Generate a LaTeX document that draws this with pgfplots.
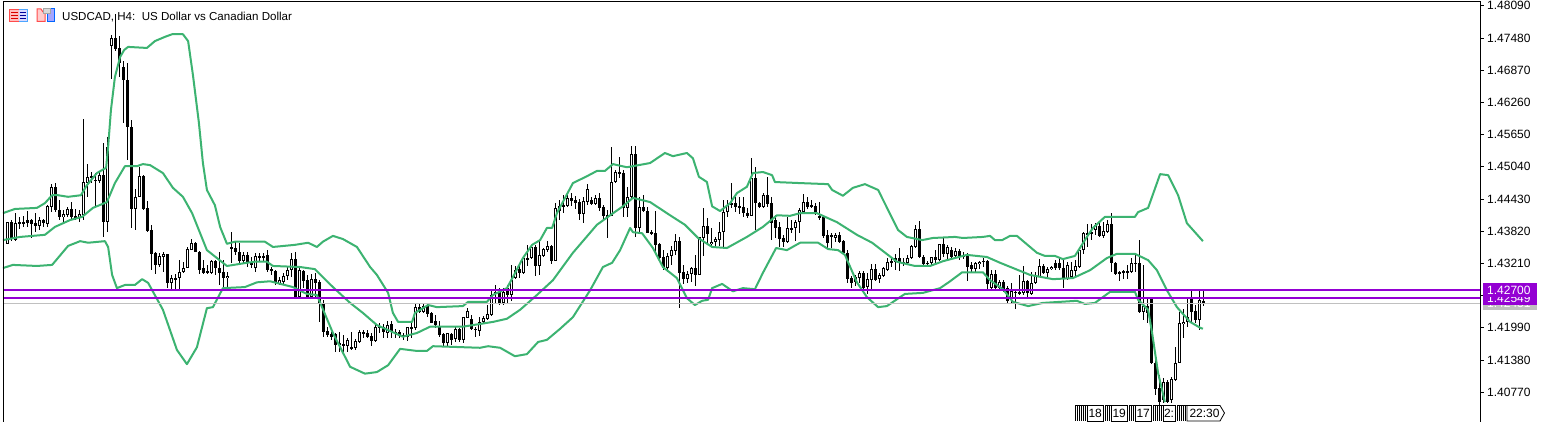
\documentclass[border=0pt]{standalone}
\usepackage{fontspec}
\setmainfont{Liberation Sans}
\usepackage{pgfplots}
\usepackage{pgfplotstable}
\pgfplotsset{compat=1.18}
\definecolor{band}{RGB}{60,179,113}
\definecolor{level}{RGB}{148,0,211}
\definecolor{bidline}{RGB}{192,192,192}
\newcommand{\chartfont}{\fontsize{12}{14}\selectfont}

% i open high low close, 4-hour bars
\pgfplotstableread{
i o h l c
0 1.4358 1.4399 1.4358 1.4399
1 1.4399 1.4403 1.4363 1.4367
2 1.4365 1.4416 1.4363 1.4397
3 1.4399 1.4409 1.4387 1.4395
4 1.4399 1.4411 1.4389 1.4395
5 1.4403 1.4420 1.4389 1.4397
6 1.4403 1.4405 1.4369 1.4395
7 1.4397 1.4416 1.4380 1.4392
8 1.4392 1.4409 1.4384 1.4403
9 1.4403 1.4405 1.4389 1.4397
10 1.4395 1.4431 1.4389 1.4429
11 1.4427 1.4471 1.4418 1.4465
12 1.4465 1.4473 1.4418 1.4422
13 1.4422 1.4441 1.4403 1.4409
14 1.4409 1.4422 1.4399 1.4414
15 1.4412 1.4427 1.4409 1.4424
16 1.4424 1.4437 1.4403 1.4409
17 1.4411 1.4424 1.4403 1.4407
18 1.4409 1.4422 1.4399 1.4414
19 1.4412 1.4594 1.4403 1.4475
20 1.4473 1.4509 1.4447 1.4485
21 1.4486 1.4494 1.4473 1.4483
22 1.4479 1.4492 1.4429 1.4477
23 1.4477 1.4496 1.4473 1.4488
24 1.4488 1.4549 1.4371 1.4399
25 1.4399 1.4560 1.4380 1.4541
26 1.4733 1.4754 1.4670 1.4748
27 1.4748 1.4793 1.4723 1.4727
28 1.4729 1.4752 1.4674 1.4700
29 1.4693 1.4704 1.4587 1.4668
30 1.4668 1.4700 1.4517 1.4579
31 1.4579 1.4592 1.4388 1.4424
32 1.4424 1.4462 1.4384 1.4447
33 1.4447 1.4503 1.4447 1.4486
34 1.4486 1.4488 1.4422 1.4424
35 1.4426 1.4439 1.4380 1.4382
36 1.4384 1.4394 1.4308 1.4339
37 1.4341 1.4342 1.4301 1.4318
38 1.4318 1.4341 1.4314 1.4335
39 1.4333 1.4342 1.4304 1.4339
40 1.4339 1.4339 1.4274 1.4284
41 1.4284 1.4299 1.4270 1.4293
42 1.4293 1.4301 1.4270 1.4291
43 1.4293 1.4327 1.4270 1.4304
44 1.4304 1.4324 1.4303 1.4312
45 1.4312 1.4352 1.4312 1.4348
46 1.4346 1.4367 1.4346 1.4360
47 1.4360 1.4362 1.4342 1.4342
48 1.4342 1.4344 1.4301 1.4308
49 1.4312 1.4327 1.4301 1.4303
50 1.4306 1.4318 1.4301 1.4303
51 1.4303 1.4327 1.4301 1.4325
52 1.4325 1.4327 1.4299 1.4312
53 1.4312 1.4342 1.4280 1.4303
54 1.4304 1.4327 1.4276 1.4293
55 1.4293 1.4304 1.4274 1.4297
56 1.4352 1.4380 1.4322 1.4350
57 1.4350 1.4362 1.4337 1.4342
58 1.4342 1.4360 1.4318 1.4325
59 1.4325 1.4342 1.4322 1.4337
60 1.4337 1.4342 1.4314 1.4322
61 1.4324 1.4333 1.4312 1.4318
62 1.4312 1.4341 1.4304 1.4335
63 1.4335 1.4341 1.4324 1.4331
64 1.4335 1.4341 1.4324 1.4331
65 1.4337 1.4346 1.4304 1.4308
66 1.4310 1.4314 1.4299 1.4306
67 1.4306 1.4308 1.4280 1.4284
68 1.4284 1.4295 1.4280 1.4289
69 1.4285 1.4303 1.4280 1.4297
70 1.4297 1.4314 1.4289 1.4308
71 1.4308 1.4341 1.4295 1.4329
72 1.4329 1.4342 1.4255 1.4257
73 1.4257 1.4312 1.4255 1.4308
74 1.4306 1.4308 1.4274 1.4287
75 1.4289 1.4299 1.4255 1.4257
76 1.4257 1.4301 1.4255 1.4291
77 1.4291 1.4303 1.4255 1.4284
78 1.4285 1.4289 1.4210 1.4246
79 1.4246 1.4252 1.4182 1.4191
80 1.4193 1.4201 1.4182 1.4185
81 1.4187 1.4191 1.4176 1.4182
82 1.4187 1.4189 1.4153 1.4166
83 1.4166 1.4191 1.4153 1.4170
84 1.4168 1.4185 1.4153 1.4164
85 1.4164 1.4180 1.4153 1.4176
86 1.4162 1.4191 1.4157 1.4161
87 1.4161 1.4178 1.4157 1.4174
88 1.4172 1.4195 1.4170 1.4191
89 1.4191 1.4195 1.4180 1.4189
90 1.4189 1.4195 1.4180 1.4182
91 1.4183 1.4189 1.4164 1.4174
92 1.4174 1.4206 1.4172 1.4201
93 1.4201 1.4208 1.4189 1.4199
94 1.4201 1.4206 1.4180 1.4191
95 1.4189 1.4212 1.4180 1.4204
96 1.4206 1.4212 1.4180 1.4191
97 1.4191 1.4197 1.4180 1.4189
98 1.4191 1.4195 1.4180 1.4183
99 1.4185 1.4189 1.4176 1.4182
100 1.4182 1.4201 1.4174 1.4201
101 1.4201 1.4210 1.4180 1.4197
102 1.4199 1.4246 1.4195 1.4238
103 1.4238 1.4246 1.4227 1.4229
104 1.4229 1.4244 1.4227 1.4240
105 1.4240 1.4244 1.4219 1.4225
106 1.4227 1.4229 1.4208 1.4208
107 1.4212 1.4223 1.4199 1.4204
108 1.4201 1.4212 1.4182 1.4185
109 1.4187 1.4189 1.4162 1.4170
110 1.4170 1.4189 1.4162 1.4189
111 1.4187 1.4189 1.4166 1.4176
112 1.4178 1.4201 1.4172 1.4197
113 1.4197 1.4199 1.4172 1.4176
114 1.4176 1.4219 1.4170 1.4219
115 1.4217 1.4236 1.4217 1.4231
116 1.4216 1.4223 1.4195 1.4197
117 1.4197 1.4201 1.4182 1.4195
118 1.4193 1.4219 1.4183 1.4210
119 1.4210 1.4221 1.4208 1.4217
120 1.4216 1.4242 1.4214 1.4225
121 1.4223 1.4268 1.4221 1.4261
122 1.4267 1.4280 1.4246 1.4265
123 1.4267 1.4274 1.4242 1.4246
124 1.4246 1.4274 1.4242 1.4267
125 1.4274 1.4280 1.4244 1.4261
126 1.4261 1.4318 1.4250 1.4289
127 1.4293 1.4316 1.4291 1.4308
128 1.4310 1.4316 1.4293 1.4303
129 1.4303 1.4333 1.4301 1.4331
130 1.4331 1.4356 1.4316 1.4329
131 1.4331 1.4356 1.4329 1.4352
132 1.4352 1.4356 1.4297 1.4316
133 1.4316 1.4363 1.4299 1.4337
134 1.4335 1.4350 1.4333 1.4348
135 1.4346 1.4363 1.4342 1.4354
136 1.4354 1.4356 1.4320 1.4325
137 1.4325 1.4435 1.4325 1.4426
138 1.4429 1.4441 1.4403 1.4420
139 1.4431 1.4450 1.4416 1.4427
140 1.4429 1.4450 1.4427 1.4445
141 1.4445 1.4454 1.4429 1.4439
142 1.4441 1.4449 1.4424 1.4435
143 1.4437 1.4443 1.4403 1.4414
144 1.4414 1.4447 1.4397 1.4439
145 1.4437 1.4471 1.4431 1.4462
146 1.4441 1.4447 1.4431 1.4433
147 1.4433 1.4450 1.4431 1.4445
148 1.4445 1.4454 1.4420 1.4426
149 1.4427 1.4431 1.4403 1.4411
150 1.4412 1.4422 1.4369 1.4409
151 1.4411 1.4541 1.4411 1.4475
152 1.4475 1.4498 1.4473 1.4494
153 1.4494 1.4522 1.4483 1.4490
154 1.4492 1.4498 1.4409 1.4426
155 1.4426 1.4466 1.4409 1.4447
156 1.4447 1.4543 1.4443 1.4528
157 1.4528 1.4543 1.4371 1.4388
158 1.4388 1.4447 1.4380 1.4427
159 1.4427 1.4450 1.4418 1.4420
160 1.4420 1.4427 1.4378 1.4378
161 1.4380 1.4384 1.4375 1.4378
162 1.4378 1.4420 1.4341 1.4356
163 1.4358 1.4360 1.4324 1.4331
164 1.4333 1.4346 1.4308 1.4312
165 1.4312 1.4341 1.4304 1.4335
166 1.4335 1.4354 1.4318 1.4346
167 1.4344 1.4376 1.4337 1.4363
168 1.4363 1.4371 1.4236 1.4303
169 1.4304 1.4318 1.4282 1.4291
170 1.4291 1.4306 1.4284 1.4301
171 1.4301 1.4314 1.4285 1.4312
172 1.4312 1.4337 1.4278 1.4299
173 1.4299 1.4371 1.4299 1.4371
174 1.4369 1.4426 1.4335 1.4392
175 1.4392 1.4407 1.4360 1.4376
176 1.4358 1.4388 1.4354 1.4362
177 1.4362 1.4371 1.4354 1.4367
178 1.4365 1.4399 1.4354 1.4380
179 1.4380 1.4441 1.4352 1.4418
180 1.4418 1.4441 1.4409 1.4431
181 1.4435 1.4473 1.4426 1.4431
182 1.4435 1.4447 1.4418 1.4427
183 1.4429 1.4447 1.4414 1.4426
184 1.4427 1.4447 1.4409 1.4416
185 1.4416 1.4426 1.4407 1.4411
186 1.4411 1.4520 1.4411 1.4483
187 1.4483 1.4503 1.4384 1.4435
188 1.4435 1.4437 1.4426 1.4427
189 1.4427 1.4454 1.4426 1.4450
190 1.4450 1.4485 1.4427 1.4433
191 1.4435 1.4447 1.4365 1.4397
192 1.4403 1.4412 1.4369 1.4388
193 1.4390 1.4399 1.4352 1.4367
194 1.4369 1.4375 1.4352 1.4362
195 1.4362 1.4409 1.4360 1.4388
196 1.4388 1.4403 1.4378 1.4386
197 1.4388 1.4403 1.4363 1.4399
198 1.4399 1.4426 1.4378 1.4422
199 1.4418 1.4452 1.4416 1.4437
200 1.4437 1.4447 1.4424 1.4427
201 1.4431 1.4441 1.4426 1.4427
202 1.4429 1.4435 1.4412 1.4416
203 1.4411 1.4437 1.4403 1.4407
204 1.4409 1.4411 1.4369 1.4373
205 1.4375 1.4384 1.4350 1.4360
206 1.4375 1.4378 1.4350 1.4371
207 1.4369 1.4378 1.4362 1.4375
208 1.4375 1.4380 1.4360 1.4362
209 1.4363 1.4365 1.4339 1.4341
210 1.4341 1.4346 1.4284 1.4291
211 1.4293 1.4297 1.4274 1.4284
212 1.4285 1.4299 1.4278 1.4295
213 1.4293 1.4306 1.4284 1.4303
214 1.4303 1.4306 1.4272 1.4274
215 1.4276 1.4303 1.4263 1.4291
216 1.4289 1.4320 1.4272 1.4310
217 1.4310 1.4320 1.4287 1.4289
218 1.4291 1.4303 1.4284 1.4299
219 1.4297 1.4314 1.4295 1.4312
220 1.4308 1.4331 1.4306 1.4324
221 1.4325 1.4333 1.4314 1.4322
222 1.4331 1.4339 1.4308 1.4324
223 1.4331 1.4350 1.4306 1.4324
224 1.4324 1.4331 1.4316 1.4322
225 1.4322 1.4337 1.4318 1.4331
226 1.4331 1.4356 1.4329 1.4354
227 1.4352 1.4394 1.4350 1.4386
228 1.4386 1.4401 1.4331 1.4333
229 1.4333 1.4337 1.4314 1.4320
230 1.4322 1.4325 1.4314 1.4320
231 1.4322 1.4333 1.4318 1.4333
232 1.4333 1.4346 1.4318 1.4327
233 1.4327 1.4358 1.4325 1.4358
234 1.4358 1.4371 1.4333 1.4339
235 1.4339 1.4356 1.4327 1.4352
236 1.4346 1.4352 1.4327 1.4333
237 1.4335 1.4350 1.4331 1.4344
238 1.4344 1.4348 1.4327 1.4333
239 1.4337 1.4342 1.4329 1.4333
240 1.4335 1.4341 1.4287 1.4314
241 1.4318 1.4324 1.4304 1.4310
242 1.4310 1.4324 1.4304 1.4322
243 1.4320 1.4325 1.4310 1.4324
244 1.4325 1.4331 1.4314 1.4324
245 1.4325 1.4327 1.4272 1.4282
246 1.4274 1.4308 1.4270 1.4301
247 1.4301 1.4308 1.4270 1.4274
248 1.4274 1.4289 1.4270 1.4285
249 1.4285 1.4289 1.4267 1.4270
250 1.4274 1.4278 1.4246 1.4250
251 1.4255 1.4284 1.4244 1.4268
252 1.4267 1.4270 1.4235 1.4265
253 1.4267 1.4299 1.4261 1.4263
254 1.4265 1.4316 1.4261 1.4287
255 1.4287 1.4289 1.4257 1.4265
256 1.4263 1.4304 1.4261 1.4284
257 1.4284 1.4304 1.4282 1.4297
258 1.4295 1.4329 1.4295 1.4316
259 1.4316 1.4320 1.4301 1.4303
260 1.4303 1.4314 1.4293 1.4310
261 1.4310 1.4316 1.4308 1.4314
262 1.4322 1.4327 1.4308 1.4312
263 1.4322 1.4331 1.4308 1.4312
264 1.4312 1.4331 1.4274 1.4291
265 1.4291 1.4324 1.4289 1.4318
266 1.4295 1.4324 1.4293 1.4308
267 1.4306 1.4327 1.4297 1.4316
268 1.4314 1.4350 1.4312 1.4346
269 1.4346 1.4380 1.4339 1.4378
270 1.4378 1.4395 1.4352 1.4376
271 1.4380 1.4395 1.4365 1.4376
272 1.4384 1.4397 1.4375 1.4394
273 1.4392 1.4397 1.4371 1.4373
274 1.4373 1.4399 1.4369 1.4382
275 1.4380 1.4403 1.4378 1.4395
276 1.4395 1.4416 1.4304 1.4322
277 1.4322 1.4324 1.4299 1.4301
278 1.4301 1.4306 1.4287 1.4304
279 1.4306 1.4308 1.4291 1.4304
280 1.4306 1.4318 1.4291 1.4304
281 1.4304 1.4331 1.4303 1.4322
282 1.4322 1.4337 1.4304 1.4320
283 1.4322 1.4365 1.4227 1.4229
284 1.4229 1.4318 1.4214 1.4240
285 1.4240 1.4257 1.4208 1.4227
286 1.4253 1.4257 1.4130 1.4132
287 1.4132 1.4147 1.4072 1.4083
288 1.4085 1.4110 1.4052 1.4058
289 1.4062 1.4104 1.4056 1.4096
290 1.4096 1.4100 1.4056 1.4058
291 1.4062 1.4106 1.4056 1.4102
292 1.4100 1.4162 1.4098 1.4132
293 1.4132 1.4229 1.4132 1.4208
294 1.4206 1.4235 1.4180 1.4210
295 1.4210 1.4257 1.4201 1.4219
296 1.4253 1.4268 1.4210 1.4229
297 1.4231 1.4242 1.4208 1.4214
298 1.4214 1.4268 1.4195 1.4252
299 1.4250 1.4268 1.4240 1.4246
}\candles

\begin{document}
\begin{tikzpicture}
\path[use as bounding box, fill=white] (0pt,0pt) rectangle (1547pt,-422pt);
\begin{axis}[
  at={(3pt,-422pt)}, anchor=south west,
  scale only axis, width=1477.5pt, height=420.5pt,
  xmin=-1.08, xmax=368.3,
  ymin=1.40204, ymax=1.4817,
  axis line style={draw=none},
  xtick=\empty,
  ytick={1.4809,1.4748,1.4687,1.4626,1.4565,1.4504,1.4443,1.4382,1.4321,1.4260,1.4199,1.4138,1.4077},
  yticklabels={1.48090,1.47480,1.46870,1.46260,1.45650,1.45040,1.44430,1.43820,1.43210,,1.41990,1.41380,1.40770},
  ytick pos=right, yticklabel pos=right,
  tick align=outside, major tick length=3pt,
  tick style={black, line width=0.8pt},
  yticklabel style={font=\chartfont, inner sep=0pt, anchor=west, xshift=3.5pt},
  clip=true,
]
% wicks
\addplot[draw=none, no markers, error bars/.cd, y dir=both, y explicit, error mark=none,
  error bar style={solid, draw=black, line width=1pt}]
  table[x=i, y expr={(\thisrow{h}+\thisrow{l})/2}, y error expr={(\thisrow{h}-\thisrow{l})/2}] {\candles};
% bodies
\addplot[draw=none, no markers, error bars/.cd, y dir=both, y explicit, error mark=none,
  error bar style={solid, draw=black, line width=3pt}]
  table[x=i, y expr={(\thisrow{o}+\thisrow{c})/2}, y error expr={abs(\thisrow{o}-\thisrow{c})>0.0002 ? abs(\thisrow{o}-\thisrow{c})/2 : 0.0001}] {\candles};
% hollow inside of rising bars
\addplot[draw=none, no markers, error bars/.cd, y dir=both, y explicit, error mark=none,
  error bar style={solid, draw=white, line width=1pt}]
  table[x=i, y expr={(\thisrow{o}+\thisrow{c})/2}, y error expr={\thisrow{c}-\thisrow{o}>0.00038 ? (\thisrow{c}-\thisrow{o})/2-0.00019 : 0}] {\candles};

% upper band
\addplot[band, line width=2pt, line join=round] coordinates {
(-1.1,1.4416)(1.9,1.4424)(7.4,1.4426)(9.4,1.4435)(11.2,1.4450)(12.7,1.4450)(15.2,1.4447)(18.4,1.4450)(19.9,1.4469)(22.4,1.4492)(24.7,1.4502)(25.2,1.4541)(25.9,1.4611)(26.9,1.4674)(28.2,1.4712)(29.2,1.4725)(30.2,1.4731)(34.9,1.4729)(36.9,1.4742)(39.4,1.4750)(41.2,1.4755)(43.9,1.4755)(45.2,1.4742)(46.4,1.4678)(47.9,1.4587)(48.9,1.4511)(49.9,1.4460)(51.9,1.4431)(53.2,1.4390)(54.9,1.4358)(56.9,1.4362)(64.4,1.4362)(66.4,1.4352)(71.9,1.4356)(75.2,1.4360)(77.4,1.4352)(78.9,1.4362)(81.4,1.4373)(83.9,1.4367)(87.4,1.4352)(90.7,1.4314)(92.4,1.4299)(95.2,1.4265)(96.4,1.4227)(97.7,1.4210)(101.2,1.4210)(101.9,1.4227)(105.2,1.4242)(107.4,1.4238)(113.9,1.4240)(115.2,1.4248)(119.9,1.4248)(121.4,1.4261)(124.9,1.4274)(126.4,1.4295)(128.9,1.4331)(131.2,1.4356)(133.2,1.4365)(134.9,1.4388)(136.2,1.4388)(137.4,1.4416)(141.4,1.4473)(144.9,1.4486)(147.4,1.4496)(149.4,1.4496)(151.4,1.4509)(154.9,1.4503)(160.7,1.4511)(164.4,1.4530)(166.4,1.4524)(169.9,1.4530)(171.4,1.4520)(172.9,1.4485)(174.9,1.4475)(176.2,1.4429)(178.2,1.4420)(180.7,1.4435)(182.4,1.4454)(184.9,1.4466)(186.4,1.4492)(188.9,1.4494)(191.2,1.4488)(191.9,1.4475)(198.2,1.4473)(205.2,1.4471)(206.2,1.4460)(208.9,1.4449)(211.4,1.4464)(214.4,1.4471)(217.7,1.4460)(222.7,1.4384)(224.9,1.4371)(228.7,1.4365)(231.4,1.4369)(236.9,1.4371)(238.9,1.4369)(243.9,1.4371)(245.7,1.4373)(246.9,1.4365)(248.7,1.4365)(250.7,1.4373)(252.4,1.4373)(257.4,1.4341)(259.4,1.4335)(261.9,1.4335)(263.9,1.4329)(266.9,1.4335)(269.9,1.4371)(271.4,1.4388)(274.4,1.4409)(281.9,1.4409)(282.7,1.4418)(285.2,1.4426)(288.2,1.4490)(290.2,1.4488)(292.7,1.4450)(294.9,1.4397)(298.2,1.4369)(298.9,1.4363)
};
% middle band
\addplot[band, line width=2pt, line join=round] coordinates {
(-1.1,1.4365)(3.2,1.4371)(9.4,1.4375)(11.9,1.4390)(15.7,1.4403)(18.7,1.4409)(21.4,1.4426)(24.9,1.4437)(26.9,1.4473)(29.4,1.4505)(32.4,1.4505)(33.9,1.4509)(35.7,1.4507)(38.9,1.4492)(41.4,1.4464)(43.9,1.4447)(46.2,1.4416)(49.9,1.4346)(54.9,1.4316)(59.9,1.4322)(61.9,1.4324)(64.9,1.4324)(66.4,1.4316)(73.2,1.4314)(76.9,1.4310)(81.4,1.4276)(85.7,1.4246)(88.9,1.4227)(92.4,1.4204)(98.9,1.4182)(102.4,1.4189)(105.7,1.4201)(113.9,1.4201)(121.4,1.4210)(124.9,1.4216)(128.2,1.4233)(132.4,1.4261)(136.4,1.4289)(141.4,1.4341)(147.4,1.4394)(150.7,1.4412)(153.9,1.4429)(156.4,1.4445)(160.7,1.4437)(165.7,1.4412)(169.4,1.4394)(172.7,1.4369)(176.2,1.4352)(179.9,1.4350)(184.9,1.4371)(188.9,1.4390)(192.4,1.4412)(195.7,1.4411)(198.2,1.4416)(202.4,1.4416)(207.4,1.4399)(212.4,1.4375)(216.2,1.4360)(222.4,1.4324)(226.9,1.4316)(230.7,1.4316)(233.9,1.4325)(239.9,1.4337)(244.9,1.4333)(248.2,1.4322)(255.7,1.4299)(261.4,1.4291)(266.4,1.4293)(270.7,1.4308)(274.9,1.4331)(277.4,1.4339)(281.9,1.4339)(285.2,1.4327)(287.4,1.4308)(289.9,1.4270)(292.4,1.4238)(295.7,1.4210)(298.2,1.4199)(298.9,1.4197)
};
% lower band
\addplot[band, line width=2pt, line join=round] coordinates {
(-1.1,1.4312)(1.4,1.4318)(7.4,1.4316)(11.2,1.4318)(15.2,1.4354)(18.2,1.4363)(20.2,1.4360)(24.4,1.4363)(25.2,1.4352)(26.2,1.4299)(27.4,1.4274)(29.4,1.4280)(31.9,1.4280)(33.7,1.4291)(35.2,1.4284)(38.9,1.4233)(42.4,1.4157)(44.9,1.4130)(47.4,1.4162)(49.9,1.4236)(51.4,1.4238)(53.9,1.4274)(59.4,1.4276)(62.4,1.4285)(65.7,1.4287)(71.4,1.4276)(74.9,1.4263)(77.4,1.4261)(81.4,1.4189)(85.7,1.4125)(89.4,1.4112)(92.4,1.4115)(95.2,1.4128)(98.2,1.4159)(102.4,1.4155)(104.9,1.4155)(106.4,1.4164)(118.2,1.4161)(120.2,1.4164)(123.2,1.4161)(126.9,1.4145)(129.9,1.4149)(132.7,1.4172)(134.9,1.4176)(138.2,1.4197)(141.4,1.4219)(145.7,1.4270)(148.9,1.4314)(151.2,1.4322)(153.2,1.4346)(155.7,1.4388)(156.4,1.4380)(158.7,1.4378)(161.4,1.4350)(163.9,1.4314)(167.4,1.4293)(169.9,1.4255)(171.9,1.4242)(173.7,1.4250)(175.2,1.4252)(176.2,1.4274)(178.7,1.4282)(181.4,1.4268)(183.9,1.4274)(186.9,1.4272)(188.9,1.4303)(192.2,1.4350)(194.9,1.4346)(198.2,1.4360)(202.7,1.4360)(205.2,1.4348)(207.7,1.4346)(209.4,1.4337)(212.4,1.4285)(214.9,1.4257)(217.7,1.4238)(219.9,1.4240)(223.2,1.4257)(224.4,1.4263)(228.9,1.4265)(233.2,1.4274)(235.7,1.4287)(238.7,1.4304)(243.9,1.4304)(245.7,1.4289)(248.9,1.4272)(251.4,1.4248)(255.2,1.4240)(258.9,1.4246)(267.4,1.4250)(269.4,1.4244)(271.9,1.4246)(275.7,1.4267)(281.9,1.4267)(282.7,1.4252)(285.2,1.4233)(286.2,1.4189)(287.7,1.4113)(289.4,1.4058)
};
% price lines
\addplot[bidline, line width=1pt] coordinates {(-1.08,1.42451)(368.3,1.42451)};
\addplot[level, line width=2pt] coordinates {(-1.08,1.42549)(368.3,1.42549)};
\addplot[level, line width=2pt] coordinates {(-1.08,1.42700)(368.3,1.42700)};
\end{axis}

\begin{scope}[x=1pt,y=-1pt]
% chart frame
\draw[black, line width=1pt] (3,422) -- (3,1.5) -- (1480.5,1.5) -- (1480.5,422);
% price tags on the scale
\fill[bidline] (1483,296) rectangle (1537,309.5);
\node[anchor=west, inner sep=0pt, white, font=\chartfont] at (1487,303.5) {1.42451};
\fill[level] (1483,291.5) rectangle (1537,305);
\node[anchor=west, inner sep=0pt, white, font=\chartfont] at (1487,298.5) {1.42549};
\fill[level] (1483,283.3) rectangle (1537,297);
\node[anchor=west, inner sep=0pt, white, font=\chartfont] at (1487,290.5) {1.42700};
% title and toolbar icons
\node[anchor=west, inner sep=0pt, black, font=\fontsize{11.55}{14}\selectfont] at (62,17) {USDCAD, H4:\ \ US Dollar vs Canadian Dollar};
\fill[red!25] (9.5,9.5) rectangle (18.5,21.5);
\fill[blue!15] (18.5,9.5) rectangle (27.5,21.5);
\draw[red!70, line width=1pt] (18.5,9.5) -- (9.5,9.5) -- (9.5,21.5) -- (18.5,21.5);
\draw[blue!50!cyan!70, line width=1pt] (18.5,9.5) -- (27.5,9.5) -- (27.5,21.5) -- (18.5,21.5);
\foreach \yy in {12.5,15.5,18.5} {
  \draw[red!85!black, line width=1.2pt] (11,\yy) -- (17.5,\yy);
  \draw[blue!60!black, line width=1.2pt] (19.5,\yy) -- (26,\yy);
}
\fill[red!20, draw=red!70, line width=1pt] (37,9) -- (41,9) -- (43,12) -- (45,12) -- (45,21.5) -- (37,21.5) -- cycle;
\fill[blue!35, draw=blue!60!cyan, line width=1pt] (47,12.5) -- (50,12.5) -- (50,9) -- (54.5,9) -- (54.5,21.5) -- (47,21.5) -- cycle;
\fill[gray!30, draw=gray!70] (43,8.5) rectangle (50,13);
% time tag
\foreach \xx in {1075,1077,1079,1081,1083,1085,1105,1107,1109,1129,1131,1133,1153,1155,1157,1159,1161,1177,1179,1181,1183,1185} {
  \draw[black, line width=0.8pt] (\xx+1.5,405.5) -- (\xx,405.5) -- (\xx,421);
}
\fill[white] (1087,405.5) rectangle (1103.5,421);
\draw[black, line width=0.8pt] (1087,405.5) rectangle (1103.5,421);
\node[inner sep=0pt, black, font=\chartfont] at (1095.2,413.5) {18};
\fill[white] (1111,405.5) rectangle (1127.5,421);
\draw[black, line width=0.8pt] (1111,405.5) rectangle (1127.5,421);
\node[inner sep=0pt, black, font=\chartfont] at (1119.2,413.5) {19};
\fill[white] (1135,405.5) rectangle (1151.5,421);
\draw[black, line width=0.8pt] (1135,405.5) rectangle (1151.5,421);
\node[inner sep=0pt, black, font=\chartfont] at (1143.2,413.5) {17};
\fill[white] (1163,405.5) rectangle (1175,421);
\draw[black, line width=0.8pt] (1163,405.5) rectangle (1175,421);
\node[inner sep=0pt, black, font=\chartfont] at (1169,413.5) {2:};
\fill[white] (1187,405.5) -- (1220,405.5) -- (1224.5,413) -- (1220,421) -- (1187,421) -- cycle;
\draw[black, line width=0.8pt] (1187,405.5) -- (1220,405.5) -- (1224.5,413) -- (1220,421) -- (1187,421) -- cycle;
\node[inner sep=0pt, black, font=\chartfont] at (1204.5,413.5) {22:30};
\end{scope}
\end{tikzpicture}
\end{document}
